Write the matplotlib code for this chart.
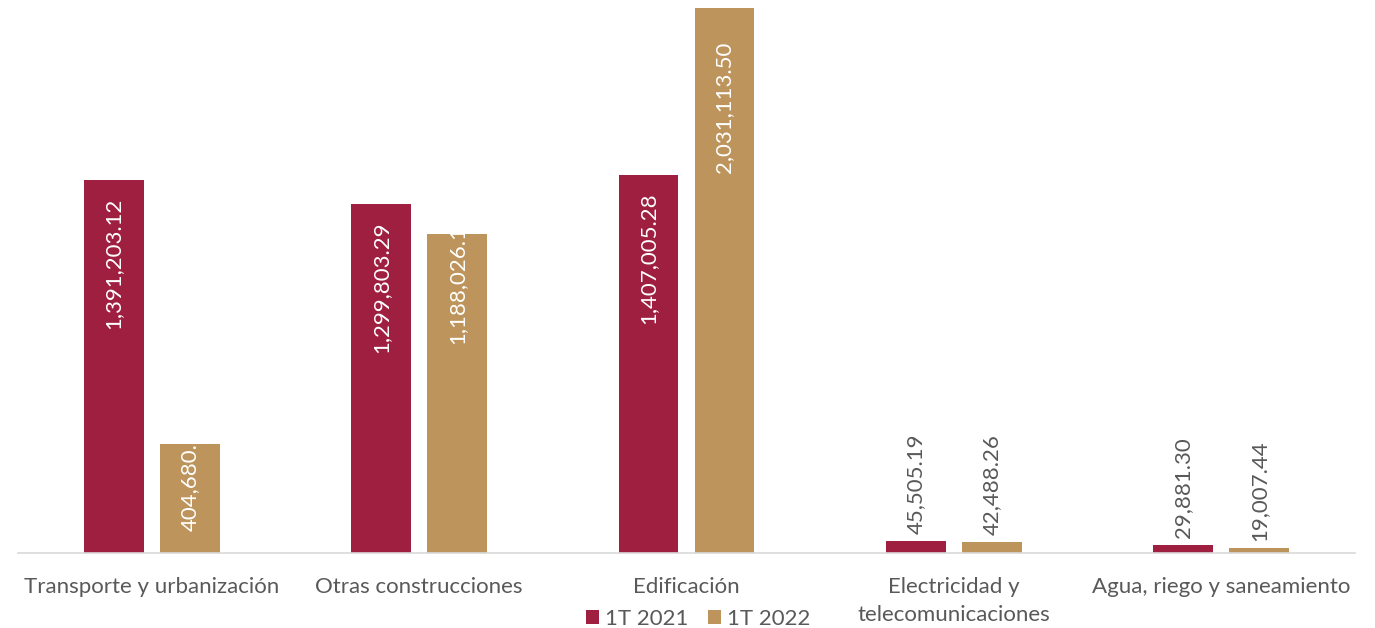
import matplotlib
matplotlib.use("Agg")
import matplotlib.pyplot as plt
from matplotlib.patches import Patch
import numpy as np

categories = ["Transporte y urbanización", "Otras construcciones", "Edificación",
              "Electricidad y\ntelecomunicaciones", "Agua, riego y saneamiento"]
series_names = ["1T 2021", "1T 2022"]
values_2021 = [1391203.12, 1299803.29, 1407005.28, 45505.19, 29881.30]
values_2022 = [404680.50, 1188026.10, 2031113.50, 42488.26, 19007.44]
colors = ["#9E1F3F", "#BD955C"]

# label placement (style): pixels from bar top to label top for inside labels;
# negative = label sticks out above the bar and is clipped by it; None = outside label
label_offsets_2021 = [18, 17, 17, None, None]
label_offsets_2022 = [-27, -22, 34, None, None]

plt.rcParams['font.family'] = ['Lato', 'DejaVu Sans']
FS = 16
grey = "#595959"

fig = plt.figure(figsize=(13.75, 6.28), dpi=100)
ax = fig.add_axes([18/1375, 75/628, 1337/1375, 545/628])

x = np.arange(len(categories))
w = 0.224
off = 0.142
px2pt = 72 / 100

for vals, dx, col, offs in [(values_2021, -off, colors[0], label_offsets_2021),
                            (values_2022, off, colors[1], label_offsets_2022)]:
    bars = ax.bar(x + dx, vals, width=w, color=col)
    for b, v, o in zip(bars, vals, offs):
        lbl = f"{v:,.2f}"
        cx = b.get_x() + b.get_width() / 2
        if o is not None:
            t = ax.annotate(lbl, (cx, v), xytext=(0, -o * px2pt), textcoords="offset points",
                            rotation=90, ha="center", va="top", color="white", fontsize=FS)
            t.set_clip_path(b)
        else:
            ax.annotate(lbl, (cx, v), xytext=(0, 5), textcoords="offset points",
                        rotation=90, ha="center", va="bottom", color=grey, fontsize=FS)

ax.set_xlim(-0.5, len(categories) - 0.5)
ax.set_ylim(0, 2031113.5)
ax.set_yticks([])
ax.set_xticks(x)
ax.set_xticklabels(categories, fontsize=FS, color=grey, linespacing=1.45)
ax.tick_params(axis="x", length=0, pad=17.5)
for s in ["top", "right", "left"]:
    ax.spines[s].set_visible(False)
ax.spines["bottom"].set_color("#D9D9D9")
ax.spines["bottom"].set_linewidth(1.2)

handles = [Patch(facecolor=c, edgecolor="none") for c in colors]
fig.legend(handles, series_names, loc="center", bbox_to_anchor=(698/1375, 1 - 619/628),
           ncol=2, frameon=False, fontsize=FS, labelcolor=grey,
           handlelength=0.6, handleheight=0.6, handletextpad=0.25, columnspacing=0.9,
           borderpad=0, borderaxespad=0)

fig.savefig("out.png", dpi=100)
